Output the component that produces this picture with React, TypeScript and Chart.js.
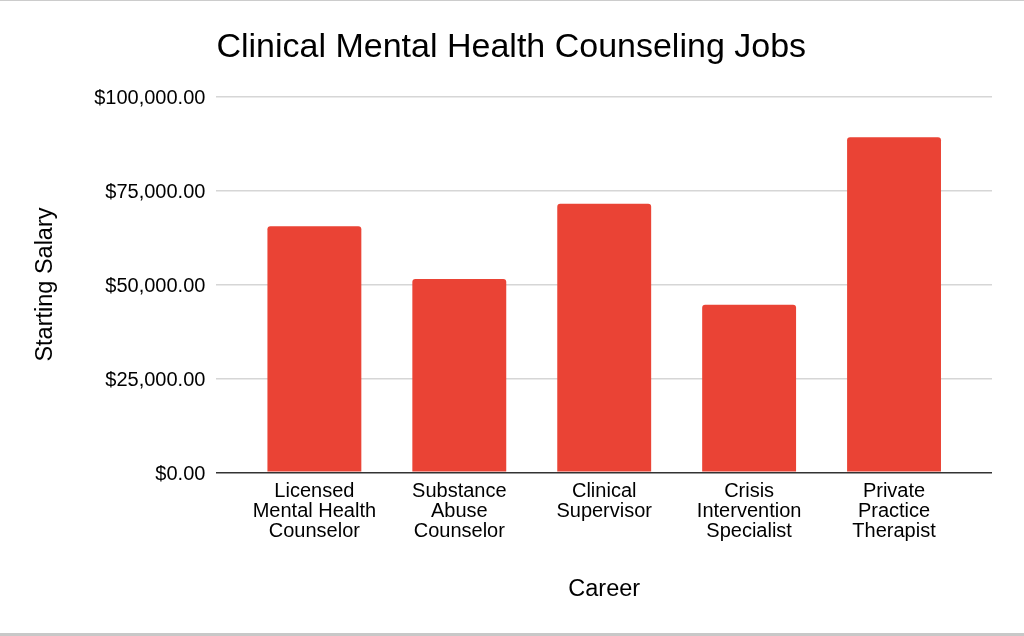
import { useEffect, useRef } from "react"
import { Chart, registerables } from "chart.js"

Chart.register(...registerables)

const chartTitle = "Clinical Mental Health Counseling Jobs"
const xTitle = "Career"
const yTitle = "Starting Salary"

// career labels, split into the lines shown under each bar
const careers = [
  ["Licensed", "Mental Health", "Counselor"],
  ["Substance", "Abuse", "Counselor"],
  ["Clinical", "Supervisor"],
  ["Crisis", "Intervention", "Specialist"],
  ["Private", "Practice", "Therapist"],
]
const salaries = [65500, 51500, 71500, 44600, 89200]
const yTicks = [0, 25000, 50000, 75000, 100000]

const FONT = "'Liberation Sans', Arial, Helvetica, sans-serif"
const BAR_RED = "#EA4335"

const money = (v: number) =>
  "$" + v.toLocaleString("en-US", { minimumFractionDigits: 2, maximumFractionDigits: 2 })

export default function App() {
  const canvasRef = useRef<HTMLCanvasElement>(null)

  useEffect(() => {
    document.body.style.margin = "0"
    if (!canvasRef.current) return

    const chart = new Chart(canvasRef.current, {
      type: "bar",
      data: {
        datasets: [
          {
            label: yTitle,
            data: salaries.map((y, i) => ({ x: i, y })),
            backgroundColor: BAR_RED,
            borderRadius: 3,
            barPercentage: 0.9,
            categoryPercentage: 0.72,
          },
        ],
      },
      options: {
        animation: false,
        responsive: true,
        maintainAspectRatio: false,
        layout: { padding: { left: 0, right: 32, top: 0, bottom: 32 } },
        plugins: {
          legend: { display: false },
          tooltip: { enabled: false },
          title: {
            display: true,
            text: chartTitle,
            align: "start",
            fullSize: false,
            color: "#000",
            font: { family: FONT, size: 34, weight: "normal", lineHeight: 1.2 },
            padding: { top: 27, bottom: 29 },
          },
        },
        scales: {
          x: {
            type: "linear",
            offset: false,
            min: -0.676,
            max: careers.length - 1 + 0.676,
            afterBuildTicks: (axis: any) => {
              axis.ticks = careers.map((_, i) => ({ value: i }))
            },
            grid: { display: false, drawTicks: false },
            border: { display: false },
            ticks: {
              autoSkip: false,
              maxRotation: 0,
              padding: 9,
              color: "#000",
              font: { family: FONT, size: 20, lineHeight: 1 },
              callback: (v: any) => careers[Math.round(Number(v))] ?? "",
            },
            title: {
              display: true,
              text: xTitle,
              color: "#000",
              font: { family: FONT, size: 23.5, lineHeight: 1.2 },
              padding: { top: 25.5, bottom: 0 },
            },
          },
          y: {
            min: 0,
            max: 100000,
            afterBuildTicks: (axis: any) => {
              axis.ticks = yTicks.map((value) => ({ value }))
            },
            grid: {
              drawTicks: false,
              color: (ctx: any) => (ctx.tick && ctx.tick.value === 0 ? "#333333" : "#d6d6d6"),
              lineWidth: 1.5,
            },
            border: { display: false },
            ticks: {
              padding: 11,
              labelOffset: 2,
              color: "#000",
              font: { family: FONT, size: 20 },
              callback: (v: any) => money(Number(v)),
            },
            title: {
              display: true,
              text: yTitle,
              color: "#000",
              font: { family: FONT, size: 23.5, lineHeight: 1.2 },
              padding: { top: 31, bottom: 24 },
            },
          },
        },
      },
    } as any)

    return () => chart.destroy()
  }, [])

  return (
    <div style={{ position: "relative", width: 1024, height: 636, background: "#fff", overflow: "hidden" }}>
      <canvas ref={canvasRef} />
      <div style={{ position: "absolute", left: 0, top: 0, width: 1024, height: 1, background: "#cccccc" }} />
      <div style={{ position: "absolute", left: 0, bottom: 0, width: 1024, height: 3, background: "#c8c8c8" }} />
    </div>
  )
}
